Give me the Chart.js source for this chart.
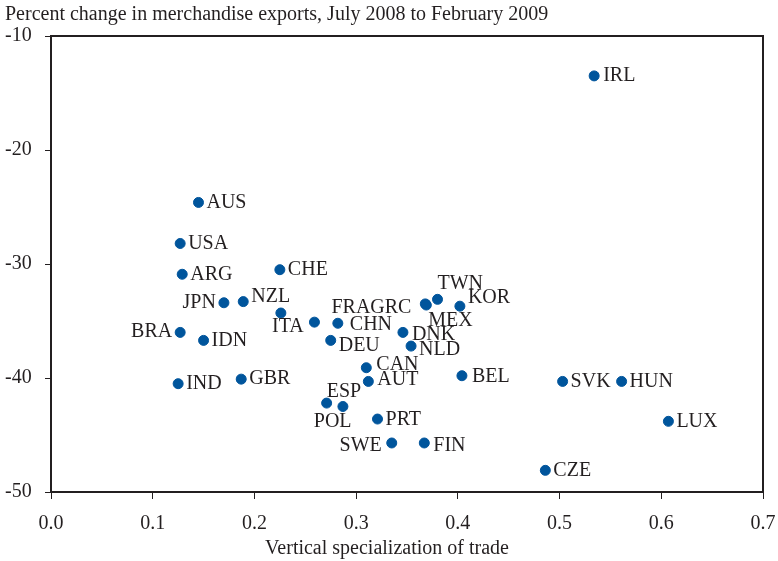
<!DOCTYPE html>
<html>
<head>
<meta charset="utf-8">
<script src="https://cdn.jsdelivr.net/npm/chart.js@4.4.0/dist/chart.umd.min.js"></script>
<style>
  body { margin: 0; background: #fff; }
  #wrap { width: 778px; height: 561px; }
</style>
</head>
<body>
<div id="wrap"><canvas id="myChart" width="778" height="561"></canvas></div>
<script>
var countries = ['IRL','AUS','USA','ARG','CHE','JPN','NZL','ITA','FRA','CHN','DEU','DNK','NLD','GRC','TWN','MEX','KOR',
  'BRA','IDN','IND','GBR','CAN','AUT','POL','ESP','PRT','SWE','FIN','BEL','SVK','HUN','LUX','CZE'];
var verticalSpec = [0.534,0.145,0.127,0.129,0.225,0.170,0.189,0.226,0.259,0.282,0.275,0.346,0.354,0.368,0.380,0.369,0.402,
  0.127,0.150,0.125,0.187,0.310,0.312,0.271,0.287,0.321,0.335,0.367,0.404,0.503,0.561,0.607,0.486];
var exportChange = [-13.5,-24.6,-28.2,-30.9,-30.5,-33.4,-33.3,-34.3,-35.1,-35.2,-36.7,-36.0,-37.2,-33.5,-33.1,-33.6,-33.7,
  -36.0,-36.7,-40.5,-40.1,-39.1,-40.3,-42.2,-42.5,-43.6,-45.7,-45.7,-39.8,-40.3,-40.3,-43.8,-48.1];
var xTicks = [0, 0.1, 0.2, 0.3, 0.4, 0.5, 0.6, 0.7];
var yTicks = [-10, -20, -30, -40, -50];

// where each label sits relative to its dot: [dx, dy, align]
var labelPos = {
  JPN: [-8, 0, 'right'], BRA: [-8, -1, 'right'], SWE: [-10, 3, 'right'], GRC: [-14, 4, 'right'],
  NZL: [8, -5], ITA: [7, 14, 'center'], FRA: [17, -14], CHN: [12, 1], DEU: [8, 5], DNK: [9, 2], NLD: [8, 4],
  TWN: [0, -16], MEX: [2, 16], KOR: [8, -8], CAN: [10, -3], AUT: [9, -2],
  ESP: [1, -15, 'center'], POL: [6, 19, 'center'], PRT: [8, 1], FIN: [9, 3], BEL: [10, 1], IRL: [9, 0]
};

var textColor = '#231f20';
var serif = '"Liberation Serif", "Times New Roman", serif';

var points = countries.map(function (c, i) {
  return { x: verticalSpec[i], y: exportChange[i], name: c };
});

var labelsPlugin = {
  id: 'labels',
  afterDatasetsDraw: function (chart) {
    var ctx = chart.ctx;
    var meta = chart.getDatasetMeta(0);
    ctx.save();
    ctx.font = '20px ' + serif;
    ctx.fillStyle = textColor;
    ctx.textBaseline = 'middle';
    meta.data.forEach(function (el, i) {
      var p = labelPos[countries[i]] || [8, 0];
      ctx.textAlign = p[2] || 'left';
      ctx.fillText(countries[i], el.x + p[0], el.y + p[1]);
    });
    // frame
    var a = chart.chartArea;
    ctx.strokeStyle = '#231f20';
    ctx.lineWidth = 2;
    ctx.strokeRect(a.left, a.top, a.right - a.left, a.bottom - a.top);
    // titles
    ctx.textAlign = 'left';
    ctx.fillText('Percent change in merchandise exports, July 2008 to February 2009', 5, 15);
    ctx.textAlign = 'center';
    ctx.fillText('Vertical specialization of trade', 387, 549);
    ctx.restore();
  }
};

const ctx = document.getElementById('myChart');

new Chart(ctx, {
  type: 'scatter',
  data: {
    datasets: [{
      data: points,
      backgroundColor: '#00559c',
      borderColor: '#00559c',
      pointRadius: 5,
      pointHoverRadius: 5
    }]
  },
  options: {
    responsive: false,
    animation: false,
    layout: { padding: { top: 36, right: 15, left: 5, bottom: 0 } },
    plugins: {
      legend: { display: false },
      tooltip: { enabled: false }
    },
    scales: {
      x: {
        type: 'linear',
        min: 0,
        max: 0.7,
        afterBuildTicks: function (s) { s.ticks = xTicks.map(function (v) { return { value: v }; }); },
        afterFit: function (s) { s.height = 69; s.paddingRight = 0; s.paddingLeft = 0; },
        grid: { drawOnChartArea: false, drawTicks: true, tickLength: 7, color: '#231f20', lineWidth: 1 },
        border: { display: true, color: '#231f20', width: 2 },
        ticks: {
          padding: 13,
          color: textColor,
          font: { family: serif, size: 20 },
          callback: function (v) { return v.toFixed(1); }
        }
      },
      y: {
        type: 'linear',
        min: -50,
        max: -10,
        afterBuildTicks: function (s) { s.ticks = yTicks.map(function (v) { return { value: v }; }); },
        afterFit: function (s) { s.width = 46; s.paddingTop = 0; s.paddingBottom = 0; },
        grid: { drawOnChartArea: false, drawTicks: true, tickLength: 6, color: '#231f20', lineWidth: 1 },
        border: { display: true, color: '#231f20', width: 2 },
        ticks: {
          crossAlign: 'far',
          padding: 4,
          color: textColor,
          font: { family: serif, size: 20 }
        }
      }
    }
  },
  plugins: [labelsPlugin]
});
</script>
</body>
</html>
